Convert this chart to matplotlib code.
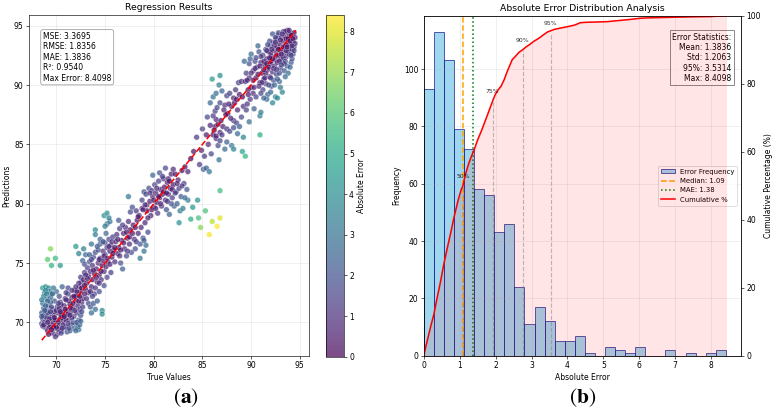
import numpy as np
import matplotlib
matplotlib.use('Agg')
import matplotlib.pyplot as plt

plt.rcParams['mathtext.fontset'] = 'stix'

# ---- scatter data (true value, prediction) ----
low_cluster = [
    (68.5, 69.9), (68.6, 70.3), (68.5, 70.8), (68.7, 71.2), (68.6, 71.6), (68.8, 70.0), (68.9, 70.5), (68.8, 69.6),
    (69.0, 71.0), (69.1, 69.3), (69.2, 70.1), (69.3, 70.7), (69.2, 71.4), (69.4, 69.8), (69.5, 70.4), (69.6, 69.1),
    (69.6, 71.1), (69.7, 70.0), (69.8, 70.6), (69.9, 69.5), (70.0, 70.2), (70.1, 71.3), (70.1, 69.0), (70.2, 70.8),
    (70.3, 69.7), (70.4, 70.3), (70.4, 71.7), (70.5, 69.3), (70.6, 70.9), (70.7, 70.1), (70.8, 71.4), (70.8, 69.6),
    (70.9, 72.0), (71.0, 70.6), (71.1, 71.0), (71.1, 69.2), (71.2, 72.4), (71.3, 70.2), (71.4, 71.5), (71.5, 69.8),
    (71.5, 70.9), (71.6, 72.1), (71.7, 71.2), (71.8, 69.5), (71.8, 70.5), (71.9, 72.7), (72.0, 71.8), (72.0, 69.9),
    (72.1, 70.8), (72.2, 71.4), (72.2, 72.3), (72.3, 69.4), (72.3, 70.2), (72.4, 73.0), (72.4, 71.1), (72.5, 72.6),
    (72.5, 70.6), (72.6, 71.7), (72.6, 73.4), (72.7, 72.0), (72.2, 69.6), (72.4, 69.8),
    (69.0, 72.0), (69.5, 72.4), (70.0, 72.6), (70.6, 73.0), (71.2, 72.9), (70.3, 72.2), (69.8, 71.8), (71.0, 72.5),
    (70.5, 71.5), (69.4, 71.7), (68.6, 72.9), (68.9, 73.0), (69.2, 72.9), (68.8, 72.5), (69.3, 72.6), (68.7, 72.2),
    (69.4, 72.1), (69.6, 72.4), (69.1, 71.8), (68.9, 72.7),
    (69.4, 76.2), (69.1, 75.3), (69.5, 74.8), (69.9, 75.4), (70.4, 74.8),
    (68.7, 70.6), (69.0, 70.4), (69.3, 69.6), (69.8, 70.9), (70.2, 69.4), (70.6, 70.4), (71.0, 69.6), (71.3, 71.8),
    (71.7, 70.0), (72.1, 72.6), (68.6, 69.7), (69.2, 69.0), (69.9, 68.8), (70.5, 69.1), (71.4, 69.3), (72.0, 69.3),
    (68.5, 70.5), (68.7, 69.8), (68.9, 71.4), (69.1, 70.8), (69.3, 70.3), (69.5, 71.3), (69.7, 69.6), (69.9, 70.2),
    (70.0, 71.0), (70.2, 70.0), (70.3, 71.2), (70.5, 70.6), (70.7, 69.8), (70.9, 71.1), (71.0, 70.2), (71.2, 70.7),
    (71.3, 69.5), (71.5, 71.2), (71.6, 70.4), (71.7, 71.6), (71.9, 71.0), (72.0, 72.2), (72.1, 70.0), (72.3, 71.8),
    (72.4, 72.2), (72.6, 72.9), (72.7, 71.3), (72.5, 73.8), (72.3, 73.3), (72.0, 73.0), (71.6, 72.7), (71.0, 71.9),
    (70.2, 71.6), (69.7, 72.9), (69.0, 72.4), (68.5, 71.9), (68.8, 71.0), (69.4, 70.9), (70.8, 70.5), (71.8, 72.2),
    (70.0, 69.6), (70.6, 69.5), (71.2, 69.9), (69.5, 69.4), (72.5, 70.1), (72.6, 70.9), (71.4, 70.6), (70.4, 70.9),
    (69.8, 70.4), (69.1, 70.0),
]

band_low = [
    (72.8, 73.6), (72.9, 74.2), (73.0, 72.8), (73.1, 73.3), (73.2, 74.6), (73.3, 73.9), (73.3, 72.5), (73.4, 75.1),
    (73.5, 74.3), (73.6, 73.0), (73.7, 74.8), (73.7, 73.6), (73.8, 75.5), (73.9, 74.1), (74.0, 72.9), (74.0, 75.9),
    (74.1, 74.5), (74.2, 73.4), (74.3, 76.1), (74.3, 75.0), (74.4, 74.0), (74.5, 76.6), (74.5, 75.4), (74.6, 73.6),
    (74.7, 74.8), (74.8, 76.0), (74.8, 75.2), (74.9, 74.3), (75.0, 76.7), (75.0, 75.7), (75.1, 74.7), (75.2, 76.3),
    (75.3, 75.1), (75.4, 77.0), (75.5, 76.0), (75.5, 74.9), (75.6, 76.5), (75.7, 75.5), (75.8, 77.2), (75.9, 76.1),
    (72.0, 76.4), (72.3, 75.8), (72.8, 76.2), (73.0, 75.7), (73.4, 75.7), (73.6, 76.6), (72.7, 75.2), (72.9, 74.9),
    (74.0, 77.8), (74.0, 77.4), (74.5, 77.0), (74.8, 76.8), (75.1, 77.5), (75.2, 78.3), (75.5, 78.5), (74.9, 79.0),
    (75.2, 79.2), (75.4, 78.8), (75.0, 78.1),
    (73.3, 71.6), (73.5, 71.3), (73.8, 71.6), (74.0, 71.1), (73.6, 70.8), (74.2, 71.8), (74.7, 71.0), (74.7, 70.7),
    (73.1, 72.0), (72.9, 72.4), (73.9, 72.4), (74.4, 72.6), (74.9, 73.1), (75.2, 73.8), (75.6, 74.2),
    (72.9, 73.1), (73.2, 73.7), (73.5, 72.6), (73.8, 74.4), (74.1, 73.8), (74.4, 75.3), (74.6, 74.3), (74.9, 75.6),
    (75.2, 75.4), (75.4, 76.4), (75.7, 76.8), (73.0, 74.0), (73.6, 75.3), (74.2, 76.4), (73.7, 72.2), (74.4, 73.3),
]

band_mid = [
    (76.0, 75.1), (76.1, 76.8), (76.2, 77.4), (76.3, 75.8), (76.4, 76.3), (76.5, 77.9), (76.6, 75.0), (76.7, 76.9),
    (76.8, 74.5), (76.9, 77.5), (77.0, 76.2), (77.1, 78.0), (77.2, 75.6), (77.3, 77.1), (77.4, 78.5), (77.5, 76.6),
    (77.6, 77.8), (77.7, 75.9), (77.8, 79.7), (77.9, 78.2), (78.0, 77.0), (78.1, 76.2), (78.2, 79.4), (78.3, 78.6),
    (78.4, 77.5), (78.5, 79.0), (78.6, 75.4), (78.6, 76.6), (78.7, 78.0), (78.8, 79.6), (78.9, 77.1), (79.0, 76.0),
    (79.1, 78.4), (79.2, 76.5), (79.3, 79.9), (79.4, 77.6), (79.0, 76.9), (77.4, 80.6), (76.4, 78.6), (77.6, 79.3),
    (76.0, 76.3), (76.3, 77.0), (76.6, 76.1), (76.9, 76.7), (77.2, 77.6), (77.5, 77.2), (77.8, 77.5), (78.1, 78.0),
    (78.4, 78.9), (76.8, 78.2), (77.3, 76.0), (78.2, 76.8), (75.8, 75.8), (76.5, 75.6),
]

mid_cluster = [
    (78.8, 80.3), (79.0, 81.0), (79.2, 80.8), (79.3, 79.4), (79.5, 81.3), (79.6, 80.2), (79.7, 79.0), (79.8, 81.1),
    (79.9, 80.6), (80.0, 79.7), (80.1, 81.6), (80.2, 80.9), (80.3, 80.1), (80.4, 79.2), (80.5, 81.9), (80.6, 80.5),
    (80.7, 81.2), (80.8, 79.8), (80.9, 80.8), (81.0, 82.1), (81.1, 81.4), (81.2, 80.3), (81.3, 79.5), (81.4, 81.8),
    (81.5, 82.1), (81.5, 80.8), (81.6, 79.1), (81.7, 81.3), (81.8, 82.5), (81.9, 80.5), (82.0, 81.6), (82.1, 79.8),
    (82.2, 82.5), (82.3, 81.0), (82.4, 80.0), (82.5, 82.0), (82.6, 78.4), (82.6, 81.3), (82.7, 79.4), (82.8, 80.6),
    (83.0, 79.6), (83.1, 81.7), (83.4, 81.2), (83.5, 80.3), (79.9, 82.4), (80.6, 82.6), (81.2, 83.0), (82.9, 82.8),
    (78.9, 79.5), (79.4, 78.8),
    (79.1, 79.9), (79.6, 80.9), (80.0, 80.3), (80.3, 81.3), (80.7, 80.0), (81.0, 81.0), (81.3, 80.9), (81.6, 81.9),
    (81.9, 81.2), (82.2, 80.9), (82.4, 81.7), (80.5, 80.6), (79.8, 79.5), (81.8, 80.0), (80.9, 82.3), (82.9, 81.5),
    (83.2, 80.5), (81.4, 80.2), (80.2, 79.6), (82.0, 82.9),
]

low_outliers = [
    (84.0, 79.7), (84.5, 80.3), (83.8, 78.7), (84.6, 78.8), (84.8, 78.0), (85.3, 79.4), (85.7, 77.4), (86.0, 78.5),
    (86.5, 78.09), (86.8, 78.8), (86.8, 81.1),
]

upper_band = [
    (83.2, 83.1), (83.5, 82.7), (83.8, 83.8), (84.1, 84.4), (84.4, 85.6), (84.7, 83.3), (85.1, 82.9), (85.4, 83.0),
    (85.7, 82.7), (85.2, 84.0), (85.6, 85.0), (85.9, 84.2), (86.1, 85.8), (86.3, 86.5), (86.4, 87.1), (86.6, 84.9),
    (86.4, 85.5), (86.7, 83.7), (86.1, 87.4), (86.3, 87.8), (86.5, 88.1), (86.8, 88.5), (87.3, 88.3), (87.5, 89.1),
    (87.8, 89.3), (88.2, 88.9), (88.0, 88.2), (88.3, 88.5), (88.5, 88.8), (88.8, 89.2), (88.7, 90.2), (89.0, 90.3),
    (89.4, 90.3), (89.7, 89.6), (90.0, 89.8), (89.2, 88.2), (89.5, 87.9), (89.9, 88.8), (90.2, 89.3), (86.6, 86.7),
    (87.1, 86.5), (87.5, 86.3), (87.8, 86.1), (88.2, 87.0), (88.5, 86.8), (88.8, 86.5), (88.2, 86.4), (86.8, 86.0),
    (86.4, 85.7), (86.8, 85.3), (87.5, 85.2), (87.3, 84.6), (88.0, 84.9), (89.1, 84.4), (89.4, 84.0), (88.2, 84.6),
    (89.2, 85.6), (90.9, 85.8), (90.9, 87.4), (91.0, 87.7), (86.0, 90.5), (86.8, 90.8), (86.7, 90.0), (86.1, 89.0),
    (86.4, 89.3), (87.0, 89.5), (87.6, 87.6), (87.9, 87.2), (88.6, 87.9), (89.0, 87.3), (89.6, 88.4), (90.3, 88.0),
    (90.5, 89.0), (87.2, 87.9),
    (84.9, 84.5), (85.4, 85.8), (85.8, 86.6), (86.2, 86.2), (86.9, 87.0), (87.4, 87.5), (87.7, 88.4), (88.4, 89.6),
    (89.1, 89.0), (89.8, 90.6), (85.0, 86.3), (85.5, 87.3), (87.0, 85.8), (88.6, 85.9), (89.8, 86.9), (85.8, 88.5),
]

top_cluster = [
    (89.8, 91.8), (90.0, 92.6), (90.2, 91.2), (90.4, 92.0), (90.5, 90.6), (90.6, 91.5), (90.8, 92.8), (90.9, 90.2),
    (91.0, 91.9), (91.1, 91.0), (91.2, 92.5), (91.2, 89.6), (91.3, 90.5), (91.4, 91.7), (91.5, 93.0), (91.5, 90.1),
    (91.6, 92.2), (91.7, 89.2), (91.7, 91.3), (91.8, 92.8), (91.9, 90.7), (92.0, 93.3), (92.0, 91.8), (92.1, 89.9),
    (92.1, 92.4), (92.2, 91.1), (92.3, 93.6), (92.3, 90.4), (92.4, 92.9), (92.4, 91.6), (92.5, 89.0), (92.5, 92.1),
    (92.6, 93.9), (92.6, 90.9), (92.7, 93.2), (92.7, 91.9), (92.8, 92.6), (92.8, 94.2), (92.9, 90.3), (92.9, 93.5),
    (93.0, 92.3), (93.0, 91.4), (93.1, 94.0), (93.1, 93.0), (93.2, 92.0), (93.2, 89.4), (93.3, 93.7), (93.3, 94.5),
    (93.4, 92.7), (93.4, 91.2), (93.5, 93.3), (93.5, 94.1), (93.6, 92.4), (93.6, 93.9), (93.7, 94.6), (93.7, 91.6),
    (93.8, 93.1), (93.8, 92.8), (93.9, 94.3), (93.9, 93.6), (94.0, 92.9), (94.0, 94.0), (94.1, 93.4), (94.1, 91.9),
    (94.2, 94.2), (94.2, 93.0), (94.3, 93.7), (94.4, 94.4), (94.4, 93.2), (94.5, 94.0), (92.2, 94.3), (92.5, 94.0),
    (91.9, 93.7), (92.8, 94.4), (93.0, 93.0), (93.6, 93.4), (93.3, 92.3), (93.9, 92.6), (94.3, 92.6), (92.0, 90.6),
    (91.6, 88.8), (92.2, 88.5), (92.7, 88.9), (91.0, 89.3), (90.3, 89.8), (89.5, 91.0), (90.7, 93.3), (89.3, 92.0),
    (93.0, 89.8), (93.8, 91.0), (94.0, 91.5), (92.9, 91.0), (92.4, 90.0), (91.5, 91.0), (92.0, 92.0), (93.5, 92.0),
    (94.2, 92.2), (91.3, 92.0), (90.0, 91.0), (89.6, 90.4),
    (90.4, 91.4), (90.7, 90.9), (91.0, 92.4), (91.3, 91.3), (91.6, 91.8), (91.8, 91.5), (92.0, 92.7), (92.2, 92.2),
    (92.4, 93.3), (92.6, 92.5), (92.8, 93.0), (93.0, 93.8), (93.1, 92.6), (93.3, 93.2), (93.5, 94.5), (93.6, 92.9),
    (93.8, 93.9), (94.0, 93.7), (94.1, 94.2), (94.3, 93.9), (94.4, 92.9), (94.5, 93.5), (93.9, 94.6), (93.2, 94.3),
    (92.9, 92.0), (92.3, 91.4), (91.9, 92.3), (91.4, 90.6), (90.9, 91.6), (90.2, 90.4), (91.1, 90.2), (91.8, 90.0),
    (92.6, 91.3), (93.4, 91.8), (94.1, 92.5), (93.7, 93.2), (92.1, 93.0), (91.7, 93.4), (90.5, 92.3), (89.9, 92.2),
    (92.7, 90.5), (93.5, 90.7), (92.0, 89.4), (91.3, 88.9), (90.8, 89.9), (89.7, 89.2), (94.2, 93.3), (93.1, 91.7),
    (92.5, 93.6), (91.6, 92.9),
]

points = np.array(low_cluster + band_low + band_mid + mid_cluster + low_outliers + upper_band + top_cluster)
true_vals = points[:, 0]
pred_vals = points[:, 1]
abs_err = np.abs(pred_vals - true_vals)

# metrics printed in the boxes
mse, rmse, mae, r2, max_err = 3.3695, 1.8356, 1.3836, 0.9540, 8.4098
err_std, err_p95, err_median = 1.2063, 3.5314, 1.09

# ---- histogram of absolute error (30 bins, 0 .. 8.41) ----
hist_counts = [93, 113, 103, 79, 72, 58, 56, 43, 46, 24, 11, 17, 12, 5, 5,
               7, 1, 0, 3, 2, 1, 3, 0, 0, 2, 0, 1, 0, 1, 2]
bin_edges = np.linspace(0, max_err, len(hist_counts) + 1)

# cumulative curve
cum_err = [0.00, 0.05, 0.12, 0.20, 0.28, 0.36, 0.45, 0.56, 0.65, 0.75, 0.84, 0.95, 1.04, 1.09,
           1.15, 1.25, 1.32, 1.40, 1.50, 1.60, 1.68, 1.78, 1.85, 1.93, 2.00, 2.08, 2.15, 2.24,
           2.32, 2.40, 2.46, 2.55, 2.65, 2.76, 2.85, 2.95, 3.06, 3.20, 3.34, 3.45, 3.53, 3.62,
           3.80, 4.08, 4.20, 4.36, 4.50, 5.10, 5.40, 5.70, 6.03, 6.20, 6.95, 7.40, 8.00, 8.41]
cum_pct = [0.0, 2.5, 5.5, 9.0, 12.2, 16.5, 21.0, 27.1, 31.5, 36.2, 40.7, 45.5, 48.8, 50.0,
           53.0, 56.5, 58.5, 60.5, 63.5, 66.0, 68.2, 71.0, 73.0, 75.3, 77.0, 78.3, 79.2, 81.2,
           83.5, 85.5, 87.0, 88.0, 89.2, 90.0, 90.8, 91.5, 92.4, 93.3, 94.4, 95.2, 95.5, 95.9,
           96.3, 96.9, 97.2, 97.9, 98.0, 98.2, 98.5, 98.8, 99.2, 99.3, 99.5, 99.6, 99.7, 100.0]

pct_levels = [50, 75, 90, 95]
pct_values = [1.09, 1.92, 2.75, 3.53]

# ---- figure ----
W, H = 772, 414
fig = plt.figure(figsize=(14, 7.5))


def px_box(l, t, r, b):
    return [l / W, 1 - b / H, (r - l) / W, (b - t) / H]


ax1 = fig.add_axes(px_box(29, 15, 308.3, 355.7))
cax = fig.add_axes(px_box(326, 15, 343.3, 356.7))
ax2 = fig.add_axes(px_box(423.3, 15.6, 740, 355.8))

# panel (a)
sc = ax1.scatter(true_vals, pred_vals, c=abs_err, cmap='viridis', s=55, alpha=0.7,
                 edgecolors='white', linewidths=0.5, vmin=0)
lo = min(true_vals.min(), pred_vals.min())
hi = max(true_vals.max(), pred_vals.max())
ax1.plot([lo, hi], [lo, hi], 'r--', lw=2)
ax1.set_xlabel('True Values')
ax1.set_ylabel('Predictions')
ax1.set_title('Regression Results')
ax1.grid(True, alpha=0.3)
ax1.text(0.05, 0.95,
         f'MSE: {mse:.4f}\nRMSE: {rmse:.4f}\nMAE: {mae:.4f}\nR²: {r2:.4f}\nMax Error: {max_err:.4f}',
         transform=ax1.transAxes, va='top', fontsize=10,
         bbox=dict(boxstyle='round', facecolor='white', edgecolor='gray', alpha=0.8))
cbar = fig.colorbar(sc, cax=cax)
cbar.set_label('Absolute Error')

# panel (b)
_, _, bars = ax2.hist(bin_edges[:-1], bins=bin_edges, weights=hist_counts, color='skyblue',
                      alpha=0.8, edgecolor='navy', linewidth=1, label='Error Frequency')
l_med = ax2.axvline(err_median, color='orange', ls='--', lw=2, label=f'Median: {err_median:.2f}')
l_mae = ax2.axvline(mae, color='green', ls=':', lw=2, label=f'MAE: {mae:.2f}')
ax2.set_xlabel('Absolute Error')
ax2.set_ylabel('Frequency')
ax2.set_title('Absolute Error Distribution Analysis')
ax2.grid(True, alpha=0.3)

tw = ax2.twinx()
l_cum, = tw.plot(cum_err, cum_pct, 'r-', lw=2, label='Cumulative %')
tw.fill_between(cum_err, cum_pct, color='red', alpha=0.1)
for lev, val in zip(pct_levels, pct_values):
    tw.plot([val, val], [0, lev], color='gray', ls='--', alpha=0.5, lw=1.5)
    tw.text(val, lev + 2, f'{lev}%', ha='center', va='bottom', fontsize=8, alpha=0.8)
tw.set_ylim(0, 100)
tw.set_ylabel('Cumulative Percentage (%)')

ax2.legend([bars, l_med, l_mae, l_cum],
           ['Error Frequency', f'Median: {err_median:.2f}', f'MAE: {mae:.2f}', 'Cumulative %'],
           loc='center right', fontsize=9)
ax2.text(0.97, 0.95,
         f'Error Statistics:\nMean: {mae:.4f}\nStd: {err_std:.4f}\n95%: {err_p95:.4f}\nMax: {max_err:.4f}',
         transform=ax2.transAxes, ha='right', va='top', fontsize=10,
         bbox=dict(boxstyle='square', facecolor='white', edgecolor='#444444', alpha=0.8))
ax2.set_xlim(left=0)

fig.text(186 / W, 1 - 398 / H, r'$(\mathbf{a})$', ha='center', va='center', fontsize=28)
fig.text(582 / W, 1 - 398 / H, r'$(\mathbf{b})$', ha='center', va='center', fontsize=28)

fig.savefig('out.png', dpi=55.21)
